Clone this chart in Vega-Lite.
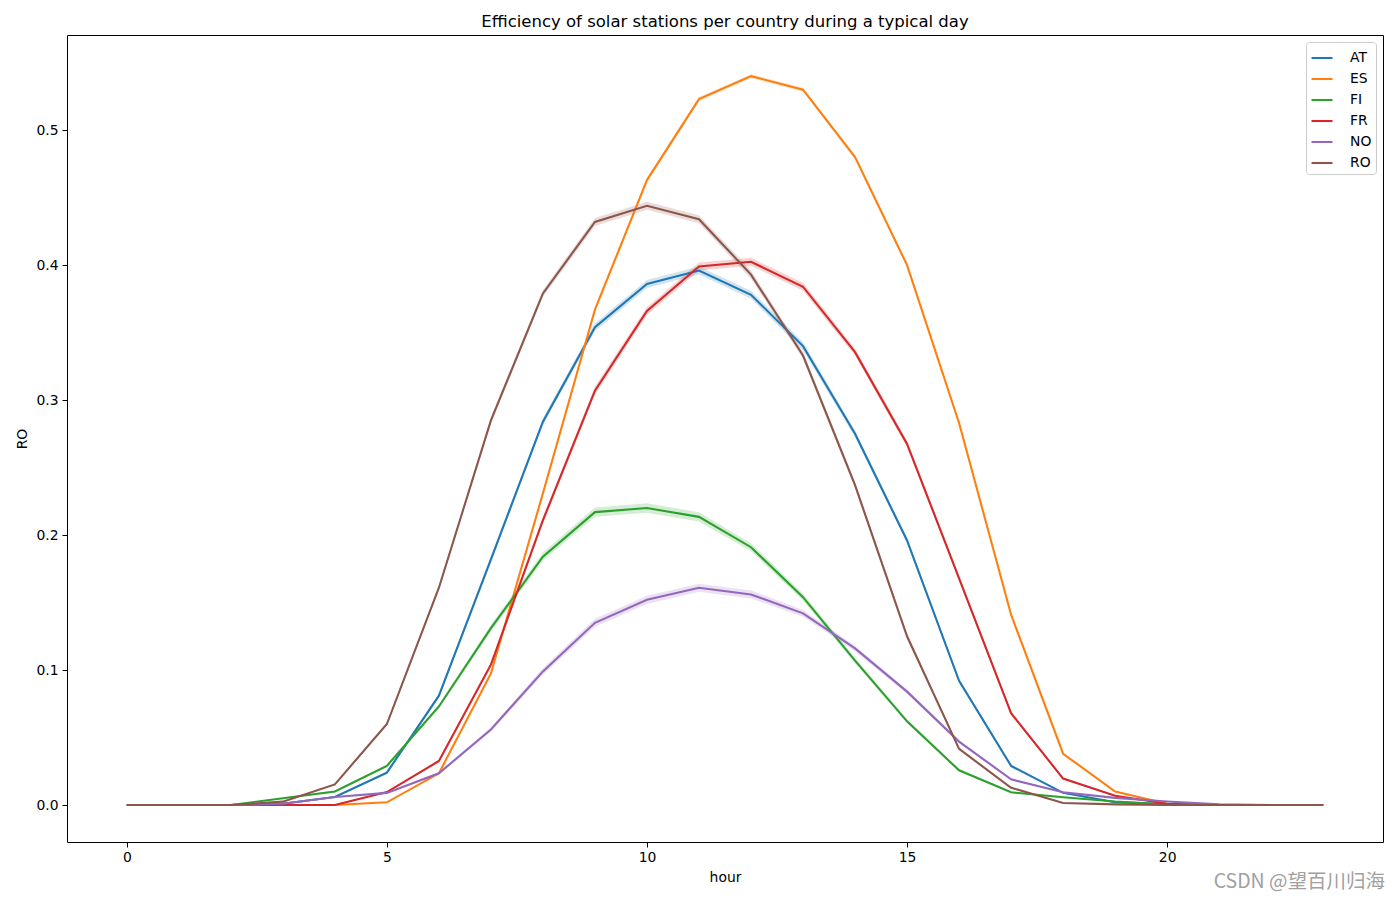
{
  "$schema": "https://vega.github.io/schema/vega-lite/v6.json",
  "width": 1316,
  "height": 807,
  "autosize": {"type": "none"},
  "padding": {"left": 67, "top": 35, "right": 17, "bottom": 58},
  "background": "white",
  "title": {"text": "Efficiency of solar stations per country during a typical day", "font": "DejaVu Sans", "fontSize": 16.5, "fontWeight": "normal", "color": "black", "anchor": "middle", "offset": 5},
  "config": {
    "font": "DejaVu Sans",
    "view": {"stroke": "black", "strokeWidth": 1},
    "axis": {"grid": false, "domain": false, "tickColor": "black", "tickSize": 5, "labelColor": "black", "labelFontSize": 13.9, "labelFont": "DejaVu Sans", "titleFont": "DejaVu Sans", "titleFontSize": 13.9, "titleFontWeight": "normal", "titleColor": "black"},
    "legend": {"title": null, "orient": "top-right", "offset": 7, "padding": 4, "fillColor": "white", "strokeColor": "#cccccc", "cornerRadius": 3, "symbolType": "stroke", "symbolSize": 441, "symbolStrokeWidth": 2.08, "symbolOpacity": 1, "labelFontSize": 13.9, "labelFont": "DejaVu Sans", "labelColor": "black", "labelOffset": 16, "rowPadding": 2}
  },
  "data": {"values": [
    {"country":"AT","hour":0,"RO":0,"lo":0,"hi":0},
    {"country":"AT","hour":1,"RO":0,"lo":0,"hi":0},
    {"country":"AT","hour":2,"RO":0,"lo":0,"hi":0},
    {"country":"AT","hour":3,"RO":0.001,"lo":0.0005,"hi":0.0015},
    {"country":"AT","hour":4,"RO":0.006,"lo":0.0055,"hi":0.0065},
    {"country":"AT","hour":5,"RO":0.024,"lo":0.0228,"hi":0.0252},
    {"country":"AT","hour":6,"RO":0.081,"lo":0.0795,"hi":0.0825},
    {"country":"AT","hour":7,"RO":0.182,"lo":0.1795,"hi":0.1845},
    {"country":"AT","hour":8,"RO":0.284,"lo":0.2815,"hi":0.2865},
    {"country":"AT","hour":9,"RO":0.354,"lo":0.351,"hi":0.357},
    {"country":"AT","hour":10,"RO":0.386,"lo":0.383,"hi":0.389},
    {"country":"AT","hour":11,"RO":0.396,"lo":0.393,"hi":0.399},
    {"country":"AT","hour":12,"RO":0.378,"lo":0.375,"hi":0.381},
    {"country":"AT","hour":13,"RO":0.340,"lo":0.337,"hi":0.343},
    {"country":"AT","hour":14,"RO":0.275,"lo":0.2725,"hi":0.2775},
    {"country":"AT","hour":15,"RO":0.196,"lo":0.194,"hi":0.198},
    {"country":"AT","hour":16,"RO":0.092,"lo":0.0905,"hi":0.0935},
    {"country":"AT","hour":17,"RO":0.029,"lo":0.028,"hi":0.030},
    {"country":"AT","hour":18,"RO":0.009,"lo":0.0085,"hi":0.0095},
    {"country":"AT","hour":19,"RO":0.002,"lo":0.0017,"hi":0.0023},
    {"country":"AT","hour":20,"RO":0.0005,"lo":0.0003,"hi":0.0007},
    {"country":"AT","hour":21,"RO":0,"lo":0,"hi":0},
    {"country":"AT","hour":22,"RO":0,"lo":0,"hi":0},
    {"country":"AT","hour":23,"RO":0,"lo":0,"hi":0},
    {"country":"ES","hour":0,"RO":0,"lo":0,"hi":0},
    {"country":"ES","hour":1,"RO":0,"lo":0,"hi":0},
    {"country":"ES","hour":2,"RO":0,"lo":0,"hi":0},
    {"country":"ES","hour":3,"RO":0,"lo":0,"hi":0},
    {"country":"ES","hour":4,"RO":0,"lo":0,"hi":0},
    {"country":"ES","hour":5,"RO":0.002,"lo":0.0017,"hi":0.0023},
    {"country":"ES","hour":6,"RO":0.0235,"lo":0.0225,"hi":0.0245},
    {"country":"ES","hour":7,"RO":0.0975,"lo":0.0963,"hi":0.0987},
    {"country":"ES","hour":8,"RO":0.231,"lo":0.2295,"hi":0.2325},
    {"country":"ES","hour":9,"RO":0.367,"lo":0.3655,"hi":0.3685},
    {"country":"ES","hour":10,"RO":0.463,"lo":0.4615,"hi":0.4645},
    {"country":"ES","hour":11,"RO":0.523,"lo":0.5215,"hi":0.5245},
    {"country":"ES","hour":12,"RO":0.540,"lo":0.5385,"hi":0.5415},
    {"country":"ES","hour":13,"RO":0.530,"lo":0.5285,"hi":0.5315},
    {"country":"ES","hour":14,"RO":0.480,"lo":0.4785,"hi":0.4815},
    {"country":"ES","hour":15,"RO":0.400,"lo":0.3985,"hi":0.4015},
    {"country":"ES","hour":16,"RO":0.283,"lo":0.2818,"hi":0.2842},
    {"country":"ES","hour":17,"RO":0.141,"lo":0.140,"hi":0.142},
    {"country":"ES","hour":18,"RO":0.038,"lo":0.0373,"hi":0.0387},
    {"country":"ES","hour":19,"RO":0.010,"lo":0.0096,"hi":0.0104},
    {"country":"ES","hour":20,"RO":0.001,"lo":0.0008,"hi":0.0012},
    {"country":"ES","hour":21,"RO":0,"lo":0,"hi":0},
    {"country":"ES","hour":22,"RO":0,"lo":0,"hi":0},
    {"country":"ES","hour":23,"RO":0,"lo":0,"hi":0},
    {"country":"FI","hour":0,"RO":0,"lo":0,"hi":0},
    {"country":"FI","hour":1,"RO":0,"lo":0,"hi":0},
    {"country":"FI","hour":2,"RO":0,"lo":0,"hi":0},
    {"country":"FI","hour":3,"RO":0.005,"lo":0.0045,"hi":0.0055},
    {"country":"FI","hour":4,"RO":0.010,"lo":0.0093,"hi":0.0107},
    {"country":"FI","hour":5,"RO":0.029,"lo":0.028,"hi":0.030},
    {"country":"FI","hour":6,"RO":0.073,"lo":0.0715,"hi":0.0745},
    {"country":"FI","hour":7,"RO":0.131,"lo":0.1285,"hi":0.1335},
    {"country":"FI","hour":8,"RO":0.184,"lo":0.181,"hi":0.187},
    {"country":"FI","hour":9,"RO":0.217,"lo":0.2135,"hi":0.2205},
    {"country":"FI","hour":10,"RO":0.220,"lo":0.2165,"hi":0.2235},
    {"country":"FI","hour":11,"RO":0.2135,"lo":0.210,"hi":0.217},
    {"country":"FI","hour":12,"RO":0.191,"lo":0.188,"hi":0.194},
    {"country":"FI","hour":13,"RO":0.154,"lo":0.1515,"hi":0.1565},
    {"country":"FI","hour":14,"RO":0.107,"lo":0.105,"hi":0.109},
    {"country":"FI","hour":15,"RO":0.062,"lo":0.0605,"hi":0.0635},
    {"country":"FI","hour":16,"RO":0.0257,"lo":0.0248,"hi":0.0266},
    {"country":"FI","hour":17,"RO":0.0094,"lo":0.0089,"hi":0.0099},
    {"country":"FI","hour":18,"RO":0.0057,"lo":0.0053,"hi":0.0061},
    {"country":"FI","hour":19,"RO":0.0026,"lo":0.0023,"hi":0.0029},
    {"country":"FI","hour":20,"RO":0.0005,"lo":0.0003,"hi":0.0007},
    {"country":"FI","hour":21,"RO":0,"lo":0,"hi":0},
    {"country":"FI","hour":22,"RO":0,"lo":0,"hi":0},
    {"country":"FI","hour":23,"RO":0,"lo":0,"hi":0},
    {"country":"FR","hour":0,"RO":0,"lo":0,"hi":0},
    {"country":"FR","hour":1,"RO":0,"lo":0,"hi":0},
    {"country":"FR","hour":2,"RO":0,"lo":0,"hi":0},
    {"country":"FR","hour":3,"RO":0,"lo":0,"hi":0},
    {"country":"FR","hour":4,"RO":0,"lo":0,"hi":0},
    {"country":"FR","hour":5,"RO":0.0096,"lo":0.0091,"hi":0.0101},
    {"country":"FR","hour":6,"RO":0.0326,"lo":0.0316,"hi":0.0336},
    {"country":"FR","hour":7,"RO":0.104,"lo":0.102,"hi":0.106},
    {"country":"FR","hour":8,"RO":0.211,"lo":0.2085,"hi":0.2135},
    {"country":"FR","hour":9,"RO":0.307,"lo":0.304,"hi":0.310},
    {"country":"FR","hour":10,"RO":0.366,"lo":0.363,"hi":0.369},
    {"country":"FR","hour":11,"RO":0.399,"lo":0.396,"hi":0.402},
    {"country":"FR","hour":12,"RO":0.4025,"lo":0.3995,"hi":0.4055},
    {"country":"FR","hour":13,"RO":0.384,"lo":0.381,"hi":0.387},
    {"country":"FR","hour":14,"RO":0.3355,"lo":0.333,"hi":0.338},
    {"country":"FR","hour":15,"RO":0.2675,"lo":0.265,"hi":0.270},
    {"country":"FR","hour":16,"RO":0.168,"lo":0.166,"hi":0.170},
    {"country":"FR","hour":17,"RO":0.068,"lo":0.0665,"hi":0.0695},
    {"country":"FR","hour":18,"RO":0.0196,"lo":0.0189,"hi":0.0203},
    {"country":"FR","hour":19,"RO":0.0068,"lo":0.0064,"hi":0.0072},
    {"country":"FR","hour":20,"RO":0.001,"lo":0.0008,"hi":0.0012},
    {"country":"FR","hour":21,"RO":0,"lo":0,"hi":0},
    {"country":"FR","hour":22,"RO":0,"lo":0,"hi":0},
    {"country":"FR","hour":23,"RO":0,"lo":0,"hi":0},
    {"country":"NO","hour":0,"RO":0,"lo":0,"hi":0},
    {"country":"NO","hour":1,"RO":0,"lo":0,"hi":0},
    {"country":"NO","hour":2,"RO":0,"lo":0,"hi":0},
    {"country":"NO","hour":3,"RO":0.001,"lo":0.0008,"hi":0.0012},
    {"country":"NO","hour":4,"RO":0.006,"lo":0.0056,"hi":0.0064},
    {"country":"NO","hour":5,"RO":0.009,"lo":0.0085,"hi":0.0095},
    {"country":"NO","hour":6,"RO":0.0235,"lo":0.0225,"hi":0.0245},
    {"country":"NO","hour":7,"RO":0.056,"lo":0.0545,"hi":0.0575},
    {"country":"NO","hour":8,"RO":0.099,"lo":0.0965,"hi":0.1015},
    {"country":"NO","hour":9,"RO":0.135,"lo":0.132,"hi":0.138},
    {"country":"NO","hour":10,"RO":0.152,"lo":0.149,"hi":0.155},
    {"country":"NO","hour":11,"RO":0.161,"lo":0.158,"hi":0.164},
    {"country":"NO","hour":12,"RO":0.156,"lo":0.153,"hi":0.159},
    {"country":"NO","hour":13,"RO":0.142,"lo":0.1395,"hi":0.1445},
    {"country":"NO","hour":14,"RO":0.116,"lo":0.114,"hi":0.118},
    {"country":"NO","hour":15,"RO":0.084,"lo":0.0825,"hi":0.0855},
    {"country":"NO","hour":16,"RO":0.047,"lo":0.046,"hi":0.048},
    {"country":"NO","hour":17,"RO":0.019,"lo":0.0184,"hi":0.0196},
    {"country":"NO","hour":18,"RO":0.0094,"lo":0.009,"hi":0.0098},
    {"country":"NO","hour":19,"RO":0.0053,"lo":0.005,"hi":0.0056},
    {"country":"NO","hour":20,"RO":0.0026,"lo":0.0024,"hi":0.0028},
    {"country":"NO","hour":21,"RO":0.0005,"lo":0.0004,"hi":0.0006},
    {"country":"NO","hour":22,"RO":0,"lo":0,"hi":0},
    {"country":"NO","hour":23,"RO":0,"lo":0,"hi":0},
    {"country":"RO","hour":0,"RO":0,"lo":0,"hi":0},
    {"country":"RO","hour":1,"RO":0,"lo":0,"hi":0},
    {"country":"RO","hour":2,"RO":0,"lo":0,"hi":0},
    {"country":"RO","hour":3,"RO":0.0025,"lo":0.0022,"hi":0.0028},
    {"country":"RO","hour":4,"RO":0.0153,"lo":0.0147,"hi":0.0159},
    {"country":"RO","hour":5,"RO":0.060,"lo":0.0588,"hi":0.0612},
    {"country":"RO","hour":6,"RO":0.161,"lo":0.1595,"hi":0.1625},
    {"country":"RO","hour":7,"RO":0.285,"lo":0.2825,"hi":0.2875},
    {"country":"RO","hour":8,"RO":0.379,"lo":0.3765,"hi":0.3815},
    {"country":"RO","hour":9,"RO":0.432,"lo":0.429,"hi":0.435},
    {"country":"RO","hour":10,"RO":0.444,"lo":0.441,"hi":0.447},
    {"country":"RO","hour":11,"RO":0.434,"lo":0.431,"hi":0.437},
    {"country":"RO","hour":12,"RO":0.393,"lo":0.390,"hi":0.396},
    {"country":"RO","hour":13,"RO":0.333,"lo":0.3305,"hi":0.3355},
    {"country":"RO","hour":14,"RO":0.237,"lo":0.2345,"hi":0.2395},
    {"country":"RO","hour":15,"RO":0.125,"lo":0.123,"hi":0.127},
    {"country":"RO","hour":16,"RO":0.0416,"lo":0.0406,"hi":0.0426},
    {"country":"RO","hour":17,"RO":0.0128,"lo":0.0123,"hi":0.0133},
    {"country":"RO","hour":18,"RO":0.0015,"lo":0.0012,"hi":0.0018},
    {"country":"RO","hour":19,"RO":0.0005,"lo":0.0004,"hi":0.0006},
    {"country":"RO","hour":20,"RO":0,"lo":0,"hi":0},
    {"country":"RO","hour":21,"RO":0,"lo":0,"hi":0},
    {"country":"RO","hour":22,"RO":0,"lo":0,"hi":0},
    {"country":"RO","hour":23,"RO":0,"lo":0,"hi":0}
  ]},
  "layer": [
    {
      "mark": {"type": "area", "opacity": 0.2},
      "encoding": {
        "x": {"field": "hour", "type": "quantitative", "scale": {"domain": [-1.15, 24.15], "nice": false, "zero": false}, "axis": {"values": [0, 5, 10, 15, 20], "format": "d", "labelPadding": 3, "title": "hour", "titlePadding": 7}},
        "y": {"field": "lo", "type": "quantitative", "scale": {"domain": [-0.0274, 0.5705], "nice": false, "zero": false}, "axis": {"values": [0, 0.1, 0.2, 0.3, 0.4, 0.5], "format": ".1f", "labelPadding": 4, "title": "RO", "titlePadding": 6}},
        "y2": {"field": "hi"},
        "color": {"field": "country", "type": "nominal", "scale": {"domain": ["AT", "ES", "FI", "FR", "NO", "RO"], "range": ["#1f77b4", "#ff7f0e", "#2ca02c", "#d62728", "#9467bd", "#8c564b"]}}
      }
    },
    {
      "mark": {"type": "line", "strokeWidth": 2.08},
      "encoding": {
        "x": {"field": "hour", "type": "quantitative"},
        "y": {"field": "RO", "type": "quantitative"},
        "color": {"field": "country", "type": "nominal"}
      }
    },
    {
      "data": {"values": [{"label": "CSDN @望百川归海"}]},
      "mark": {"type": "text", "align": "right", "baseline": "middle", "dx": 2, "dy": 40, "fontSize": 19.5, "font": "Noto Sans CJK SC", "color": "#a0a0a0", "clip": false},
      "encoding": {
        "x": {"datum": 24.15, "type": "quantitative"},
        "y": {"datum": -0.0274, "type": "quantitative"},
        "text": {"field": "label"}
      }
    }
  ]
}
